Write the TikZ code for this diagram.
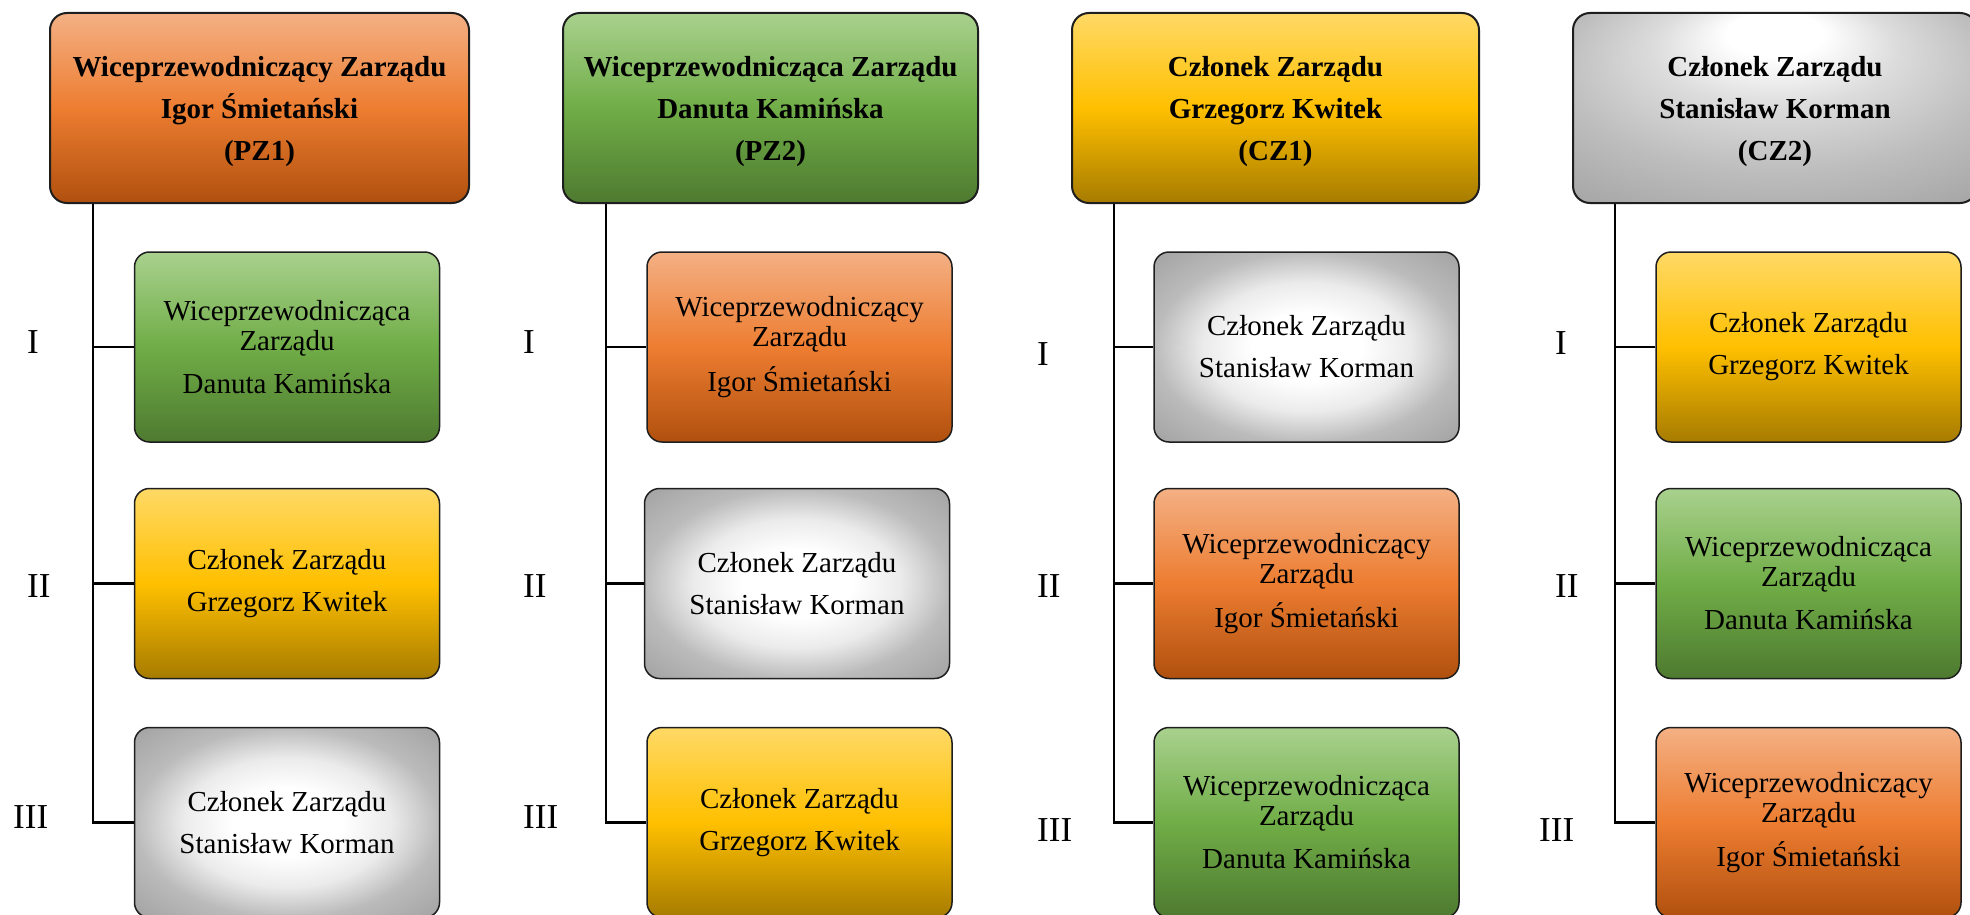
\documentclass[tikz,border=0pt]{standalone}
\usepackage{fontspec}
\setmainfont{Liberation Serif}
\definecolor{orT}{HTML}{F4B084}
\definecolor{orM}{HTML}{ED7D31}
\definecolor{orB}{HTML}{B0500E}
\definecolor{grT}{HTML}{A9D18E}
\definecolor{grM}{HTML}{70AD47}
\definecolor{grB}{HTML}{4E7A30}
\definecolor{goT}{HTML}{FFD966}
\definecolor{goM}{HTML}{FFC000}
\definecolor{goB}{HTML}{A67B00}
\definecolor{gyA}{HTML}{EBEBEB}
\definecolor{gyB}{HTML}{BBBBBB}
\definecolor{gyC}{HTML}{A3A3A3}
\definecolor{gyD}{HTML}{A0A0A0}
\definecolor{gyE}{HTML}{DCDCDC}
\definecolor{gyF}{HTML}{BDBDBD}
\definecolor{gyG}{HTML}{A5A5A5}
\definecolor{edge}{HTML}{1E1E1E}
\pgfdeclareverticalshading{orsh}{100bp}{color(0bp)=(orB); color(25bp)=(orB); color(50bp)=(orM); color(75bp)=(orT); color(100bp)=(orT)}
\pgfdeclareverticalshading{grsh}{100bp}{color(0bp)=(grB); color(25bp)=(grB); color(50bp)=(grM); color(75bp)=(grT); color(100bp)=(grT)}
\pgfdeclareverticalshading{gosh}{100bp}{color(0bp)=(goB); color(25bp)=(goB); color(50bp)=(goM); color(75bp)=(goT); color(100bp)=(goT)}
\pgfdeclareradialshading{gysh}{\pgfpoint{0bp}{0bp}}{color(0bp)=(white); color(9bp)=(white); color(17bp)=(gyA); color(25bp)=(gyB); color(35bp)=(gyC); color(50bp)=(gyD)}
\pgfdeclareradialshading{gytopsh}{\pgfpoint{0bp}{22bp}}{color(0bp)=(white); color(6bp)=(white); color(15bp)=(gyE); color(27bp)=(gyF); color(39bp)=(gyG); color(50bp)=(gyD)}
\tikzset{
  topbox/.style={draw=edge, line width=2pt, rounded corners=17pt, minimum width=#1, minimum height=190pt, inner sep=0pt, align=center, font=\fontsize{29}{42}\selectfont\bfseries},
  kidbox/.style={draw=edge, line width=1.5pt, rounded corners=15pt, minimum width=305pt, minimum height=190pt, inner sep=0pt, align=center, font=\fontsize{29}{30}\selectfont},
  lbl/.style={anchor=base west, inner sep=0pt, font=\fontsize{35}{35}\selectfont},
  conn/.style={line width=2.6pt, line join=miter},
  fillOr/.style={shading=orsh},
  fillGr/.style={shading=grsh},
  fillGo/.style={shading=gosh},
  fillGy/.style={shading=gysh},
  fillGyTop/.style={shading=gytopsh},
}
\newcommand{\txtVPa}{Wiceprzewodniczący\\Zarządu\\[13pt]Igor Śmietański}
\newcommand{\txtVPb}{Wiceprzewodnicząca\\Zarządu\\[13pt]Danuta Kamińska}
\newcommand{\txtCa}{Członek Zarządu\\[12pt]Grzegorz Kwitek}
\newcommand{\txtCb}{Członek Zarządu\\[12pt]Stanisław Korman}
\newcommand{\tstrut}{\rule{0pt}{28pt}}
\begin{document}
\begin{tikzpicture}[x=1pt,y=-1pt]
\useasboundingbox (0,0) rectangle (1970,915);
\clip (0,0) rectangle (1970,915);
% top boxes
\node[topbox=419pt, fillOr] (t1) at (259.5,108) {\tstrut Wiceprzewodniczący Zarządu\\Igor Śmietański\\(PZ1)};
\node[topbox=415pt, fillGr] (t2) at (770.5,108) {\tstrut Wiceprzewodnicząca Zarządu\\Danuta Kamińska\\(PZ2)};
\node[topbox=407pt, fillGo] (t3) at (1275.5,108) {\tstrut Członek Zarządu\\Grzegorz Kwitek\\(CZ1)};
\node[topbox=404pt, fillGyTop] (t4) at (1775,108) {\tstrut Członek Zarządu\\Stanisław Korman\\(CZ2)};
% column 1
\node[kidbox, fillGr] (c1a) at (287,347) {\txtVPb};
\node[kidbox, fillGo] (c1b) at (287,583.5) {\txtCa};
\node[kidbox, fillGy] (c1c) at (287,822.5) {\txtCb};
% column 2
\node[kidbox, fillOr] (c2a) at (799.5,347) {\txtVPa};
\node[kidbox, fillGy] (c2b) at (797,583.5) {\txtCb};
\node[kidbox, fillGo] (c2c) at (799.5,822.5) {\txtCa};
% column 3
\node[kidbox, fillGy] (c3a) at (1306.5,347) {\txtCb};
\node[kidbox, fillOr] (c3b) at (1306.5,583.5) {\txtVPa};
\node[kidbox, fillGr] (c3c) at (1306.5,822.5) {\txtVPb};
% column 4
\node[kidbox, fillGo] (c4a) at (1808.5,347) {\txtCa};
\node[kidbox, fillGr] (c4b) at (1808.5,583.5) {\txtVPb};
\node[kidbox, fillOr] (c4c) at (1808.5,822.5) {\txtVPa};
% spine coordinates
\coordinate (v1) at (93,0);
\coordinate (v2) at (606,0);
\coordinate (v3) at (1114,0);
\coordinate (v4) at (1615,0);
% connectors
\foreach \i in {1,2,3,4}{
  \draw[conn] (t\i.south -| v\i) |- (c\i c.west);
  \draw[conn] (v\i |- c\i a.west) -- (c\i a.west);
  \draw[conn] (v\i |- c\i b.west) -- (c\i b.west);
}
% labels
\node[lbl] (l1a) at (27,353) {I};
\node[lbl] (l1b) at (27,597) {II};
\node[lbl] (l1c) at (13,828) {III};
\node[lbl] (l2a) at (523,353) {I};
\node[lbl] (l2b) at (523,597) {II};
\node[lbl] (l2c) at (523,828) {III};
\node[lbl] (l3a) at (1037,365) {I};
\node[lbl] (l3b) at (1037,597) {II};
\node[lbl] (l3c) at (1037,841) {III};
\node[lbl] (l4a) at (1555,354) {I};
\node[lbl] (l4b) at (1555,597) {II};
\node[lbl] (l4c) at (1539,841) {III};
\end{tikzpicture}
\end{document}
